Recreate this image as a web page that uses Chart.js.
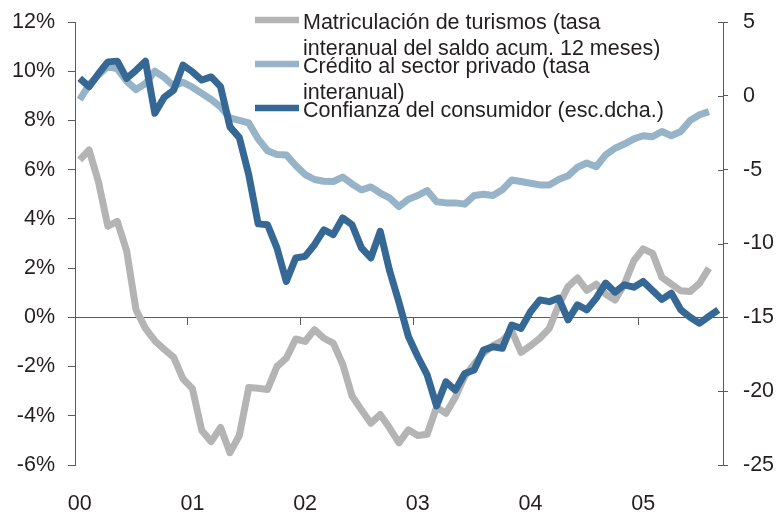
<!DOCTYPE html>
<html>
<head>
<meta charset="utf-8">
<script src="https://cdn.jsdelivr.net/npm/chart.js@4/dist/chart.umd.min.js"></script>
<style>
  html, body { margin: 0; padding: 0; background: #ffffff; }
  #wrap { width: 779px; height: 514px; }
</style>
</head>
<body>
<div id="wrap"><canvas id="c" width="779" height="514"></canvas></div>
<script>
// ---- Data ----
const categories = [
  'ene-00','feb-00','mar-00','abr-00','may-00','jun-00','jul-00','ago-00','sep-00','oct-00','nov-00','dic-00',
  'ene-01','feb-01','mar-01','abr-01','may-01','jun-01','jul-01','ago-01','sep-01','oct-01','nov-01','dic-01',
  'ene-02','feb-02','mar-02','abr-02','may-02','jun-02','jul-02','ago-02','sep-02','oct-02','nov-02','dic-02',
  'ene-03','feb-03','mar-03','abr-03','may-03','jun-03','jul-03','ago-03','sep-03','oct-03','nov-03','dic-03',
  'ene-04','feb-04','mar-04','abr-04','may-04','jun-04','jul-04','ago-04','sep-04','oct-04','nov-04','dic-04',
  'ene-05','feb-05','mar-05','abr-05','may-05','jun-05','jul-05','ago-05','sep-05'
];
const yearLabels = ['00','01','02','03','04','05'];

const seriesNames = [
  ['Matriculación de turismos (tasa', 'interanual del saldo acum. 12 meses)'],
  ['Crédito al sector privado (tasa', 'interanual)'],
  ['Confianza del consumidor (esc.dcha.)']
];

// % (left axis)
const matriculacion = [6.4, 6.8, 5.5, 3.7, 3.9, 2.7, 0.3, -0.45, -0.95, -1.3,
  -1.62, -2.5, -2.9, -4.6, -5.05, -4.47, -5.5, -4.8, -2.85, -2.88,
  -2.93, -2.0, -1.66, -0.88, -0.98, -0.5, -0.85, -1.05, -1.9, -3.2,
  -3.76, -4.3, -3.95, -4.5, -5.1, -4.57, -4.8, -4.75, -3.65, -3.9,
  -3.25, -2.4, -1.9, -1.45, -1.15, -0.95, -0.55, -1.42, -1.15, -0.85,
  -0.45, 0.5, 1.25, 1.6, 1.1, 1.35, 0.95, 0.7, 1.35, 2.3,
  2.78, 2.6, 1.62, 1.35, 1.08, 1.05, 1.38, 2.0];

// % (left axis)
const credito = [8.85, 9.45, 9.85, 10.2, 10.1, 9.6, 9.25, 9.5, 10.0, 9.75,
  9.4, 9.55, 9.35, 9.1, 8.85, 8.55, 8.1, 8.0, 7.9, 7.25,
  6.77, 6.62, 6.6, 6.17, 5.8, 5.6, 5.53, 5.52, 5.7, 5.42,
  5.18, 5.3, 5.05, 4.85, 4.5, 4.8, 4.95, 5.15, 4.7, 4.65,
  4.65, 4.6, 4.95, 5.0, 4.95, 5.18, 5.58, 5.52, 5.45, 5.38,
  5.38, 5.6, 5.75, 6.1, 6.27, 6.12, 6.6, 6.87, 7.04, 7.25,
  7.38, 7.34, 7.55, 7.38, 7.55, 8.0, 8.23, 8.36];

// right axis
const confianza = [1.18, 0.62, 1.5, 2.3, 2.35, 1.18, 1.73, 2.35, -1.18, -0.1,
  0.38, 2.08, 1.63, 1.07, 1.28, 0.62, -2.1, -2.83, -5.33, -8.67,
  -8.73, -10.3, -12.57, -10.98, -10.87, -10.08, -9.07, -9.4, -8.27, -8.73,
  -10.3, -10.98, -9.18, -11.85, -14.0, -16.3, -17.67, -18.9, -21.0, -19.37,
  -19.93, -18.8, -18.57, -17.22, -16.99, -17.1, -15.52, -15.75, -14.62, -13.82,
  -13.94, -13.7, -15.17, -14.15, -14.49, -13.7, -12.68, -13.3, -12.8, -12.96,
  -12.57, -13.19, -13.79, -13.36, -14.49, -15.0, -15.4, -14.94, -14.49];

// ---- Styles ----
const FONT = "'Liberation Sans', Arial, Helvetica, sans-serif";
const FS = 21.5;
const TXT = '#231f20';
const AXIS = '#5a5a5a';
const colors = ['#b4b4b4', '#96b3c8', '#366896'];

const legendPlugin = {
  id: 'customLegend',
  afterDraw(chart) {
    const ctx = chart.ctx;
    const ca = chart.chartArea;
    const x0 = ca.left + 180, x1 = ca.left + 224, tx = ca.left + 228;
    ctx.save();
    ctx.font = FS + 'px ' + FONT;
    ctx.fillStyle = TXT;
    ctx.textBaseline = 'alphabetic';
    ctx.textAlign = 'left';
    chart.data.datasets.forEach((ds, k) => {
      const base = ca.top + 7 + k * 44;
      ctx.strokeStyle = ds.borderColor;
      ctx.lineWidth = 6.5;
      ctx.lineCap = 'butt';
      ctx.beginPath();
      ctx.moveTo(x0, base - 9);
      ctx.lineTo(x1, base - 9);
      ctx.stroke();
      ds.labelLines.forEach((line, j) => {
        ctx.fillText(line, tx, base + j * 25.5);
      });
    });
    ctx.restore();
  }
};

const innerTicks = {
  id: 'innerTicks',
  afterDraw(chart) {
    const s = chart.scales.y2;
    const ctx = chart.ctx;
    ctx.save();
    ctx.strokeStyle = AXIS;
    ctx.lineWidth = 1;
    s.ticks.forEach(t => {
      const y = Math.round(s.getPixelForValue(t.value)) + 0.5;
      ctx.beginPath();
      ctx.moveTo(s.left - 5, y);
      ctx.lineTo(s.left, y);
      ctx.stroke();
    });
    ctx.restore();
  }
};

function fixVertical(width) {
  return (s) => { s.width = width; s.paddingTop = 0; s.paddingBottom = 0; };
}

new Chart(document.getElementById('c'), {
  type: 'line',
  data: {
    labels: categories,
    datasets: [
      { label: seriesNames[0].join(' '), labelLines: seriesNames[0], data: matriculacion,
        borderColor: colors[0], yAxisID: 'y', order: 3 },
      { label: seriesNames[1].join(' '), labelLines: seriesNames[1], data: credito,
        borderColor: colors[1], yAxisID: 'y', order: 2 },
      { label: seriesNames[2].join(' '), labelLines: seriesNames[2], data: confianza,
        borderColor: colors[2], yAxisID: 'y2', order: 1 }
    ]
  },
  options: {
    responsive: false,
    devicePixelRatio: 1,
    animation: false,
    layout: { padding: { left: 12, right: 5, top: 22, bottom: 0 } },
    elements: {
      line: { borderWidth: 7, tension: 0, fill: false, borderJoinStyle: 'round', borderCapStyle: 'butt' },
      point: { radius: 0, hoverRadius: 0 }
    },
    plugins: { legend: { display: false }, tooltip: { enabled: false } },
    scales: {
      x: {
        type: 'category',
        position: { y: 0 },
        offset: true,
        ticks: { display: false },
        grid: {
          offset: true,
          drawOnChartArea: false,
          drawTicks: true,
          tickLength: 7,
          lineWidth: 1,
          color: (c) => (c.index % 12 === 0 ? AXIS : 'rgba(0,0,0,0)'),
          tickColor: (c) => (c.index % 12 === 0 ? AXIS : 'rgba(0,0,0,0)')
        },
        border: { display: true, color: AXIS, width: 1 }
      },
      x2: {
        type: 'category',
        position: 'bottom',
        offset: true,
        grid: { display: false, drawTicks: false },
        border: { display: false },
        ticks: {
          autoSkip: false,
          maxRotation: 0,
          padding: 26,
          color: TXT,
          font: { family: FONT, size: FS },
          callback: (v, i) => (i % 12 === 0 ? yearLabels[i / 12] : '')
        },
        afterFit: (s) => { s.height = 49; }
      },
      y: {
        position: 'left',
        min: -6, max: 12,
        ticks: {
          stepSize: 2,
          padding: 13,
          color: TXT,
          font: { family: FONT, size: FS },
          callback: (v) => v + '%'
        },
        grid: { drawOnChartArea: false, drawTicks: true, tickLength: 7, color: AXIS },
        border: { display: true, color: AXIS, width: 1 },
        afterFit: fixVertical(63)
      },
      y2: {
        position: 'right',
        min: -25, max: 5,
        ticks: {
          stepSize: 5,
          padding: 15,
          color: TXT,
          font: { family: FONT, size: FS }
        },
        grid: { drawOnChartArea: false, drawTicks: true, tickLength: 5, color: AXIS },
        border: { display: true, color: AXIS, width: 1 },
        afterFit: fixVertical(51)
      }
    }
  },
  plugins: [legendPlugin, innerTicks]
});
</script>
</body>
</html>
